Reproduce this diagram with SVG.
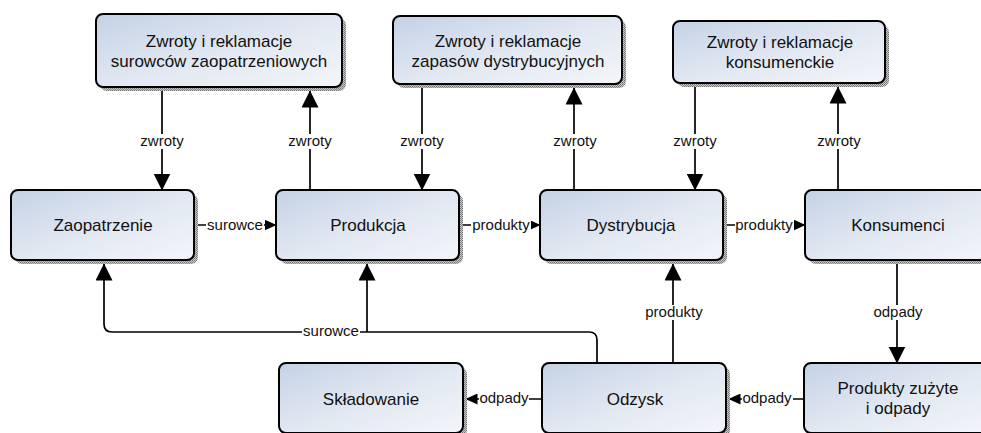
<svg xmlns="http://www.w3.org/2000/svg" width="981" height="433" viewBox="0 0 981 433">
  <defs>
    <linearGradient id="boxFill" x1="0" y1="0" x2="1" y2="1">
      <stop offset="0" stop-color="#c4d2e6"/>
      <stop offset="0.55" stop-color="#e3e9f2"/>
      <stop offset="1" stop-color="#f3f5f9"/>
    </linearGradient>
    <pattern id="hatch" width="2" height="2" patternUnits="userSpaceOnUse">
      <rect width="2" height="2" fill="#c8c8c8"/>
      <rect width="1" height="1" fill="#707070"/>
      <rect x="1" y="1" width="1" height="1" fill="#8a8a8a"/>
    </pattern>
    <marker id="bigArrow" viewBox="0 0 17 17" markerWidth="17" markerHeight="17" refX="16.5" refY="8.5" orient="auto" markerUnits="userSpaceOnUse">
      <path d="M0,0 L17,8.5 L0,17 Z" fill="#000"/>
    </marker>
    <marker id="smallArrow" viewBox="0 0 12 11" markerWidth="12" markerHeight="11" refX="11.5" refY="5.5" orient="auto" markerUnits="userSpaceOnUse">
      <path d="M0,0 L12,5.5 L0,11 Z" fill="#000"/>
    </marker>
  </defs>
  <style>
    .shadow { fill: url(#hatch); }
    .box { fill: url(#boxFill); stroke: #000; stroke-width: 2; }
    .ntext { font-family: "Liberation Sans", Arial, sans-serif; font-size: 17px; fill: #111; text-anchor: middle; }
    .edge { fill: none; stroke: #000; stroke-width: 1.7; }
    .big { marker-end: url(#bigArrow); }
    .small { marker-end: url(#smallArrow); }
    .lbg { fill: #fff; }
    .ltext { font-family: "Liberation Sans", Arial, sans-serif; font-size: 15px; fill: #111; text-anchor: middle; }
  </style>

  <rect width="981" height="433" fill="#fff"/>

  <!-- connectors -->
  <g id="connectors">
    <path class="edge big" d="M162,91 V190"/>
    <path class="edge big" d="M310,190 V91"/>
    <path class="edge big" d="M422,88 V190"/>
    <path class="edge big" d="M574,190 V88"/>
    <path class="edge big" d="M695,87 V190"/>
    <path class="edge big" d="M838,190 V87"/>
    <path class="edge small" d="M198,225 H276"/>
    <path class="edge small" d="M463,225 H540"/>
    <path class="edge small" d="M727,225 H805"/>
    <path class="edge big" d="M897,264 V363"/>
    <path class="edge small" d="M804,399 H729"/>
    <path class="edge small" d="M542,399 H466"/>
    <path class="edge big" d="M673,363 V264"/>
    <path class="edge big" d="M597,363 V340 Q597,332 589,332 H112 Q104,332 104,324 V264"/>
    <path class="edge big" d="M367,332 V264"/>

    <!-- edge labels -->
    <rect class="lbg" x="139" y="134" width="46" height="15"/>
    <text class="ltext" x="162" y="146">zwroty</text>
    <rect class="lbg" x="287" y="134" width="46" height="15"/>
    <text class="ltext" x="310" y="146">zwroty</text>
    <rect class="lbg" x="399" y="134" width="46" height="15"/>
    <text class="ltext" x="422" y="146">zwroty</text>
    <rect class="lbg" x="552" y="134" width="46" height="15"/>
    <text class="ltext" x="575" y="146">zwroty</text>
    <rect class="lbg" x="672" y="134" width="46" height="15"/>
    <text class="ltext" x="695" y="146">zwroty</text>
    <rect class="lbg" x="816" y="134" width="46" height="15"/>
    <text class="ltext" x="839" y="146">zwroty</text>

    <rect class="lbg" x="206" y="218" width="58" height="14"/>
    <text class="ltext" x="235" y="230">surowce</text>
    <rect class="lbg" x="471" y="218" width="60" height="14"/>
    <text class="ltext" x="501" y="230">produkty</text>
    <rect class="lbg" x="735" y="218" width="59" height="14"/>
    <text class="ltext" x="764" y="230">produkty</text>

    <rect class="lbg" x="872" y="305" width="52" height="15"/>
    <text class="ltext" x="898" y="317">odpady</text>
    <rect class="lbg" x="643" y="305" width="62" height="15"/>
    <text class="ltext" x="674" y="317">produkty</text>
    <rect class="lbg" x="302" y="325" width="58" height="14"/>
    <text class="ltext" x="331" y="336">surowce</text>

    <rect class="lbg" x="742" y="392" width="51" height="14"/>
    <text class="ltext" x="767" y="403">odpady</text>
    <rect class="lbg" x="479" y="392" width="50" height="14"/>
    <text class="ltext" x="504" y="403">odpady</text>
  </g>

  <!-- nodes -->
  <g id="zwroty-surowcow">
    <rect class="shadow" x="100" y="18" width="246" height="73" rx="7"/>
    <rect class="box" x="96" y="14" width="246" height="73" rx="7"/>
    <text class="ntext" x="219" y="47">Zwroty i reklamacje</text>
    <text class="ntext" x="219" y="67">surowców zaopatrzeniowych</text>
  </g>
  <g id="zwroty-zapasow">
    <rect class="shadow" x="397" y="20" width="229" height="68" rx="7"/>
    <rect class="box" x="393" y="16" width="229" height="68" rx="7"/>
    <text class="ntext" x="508" y="47">Zwroty i reklamacje</text>
    <text class="ntext" x="508" y="67">zapasów dystrybucyjnych</text>
  </g>
  <g id="zwroty-konsumenckie">
    <rect class="shadow" x="677" y="25" width="212" height="62" rx="7"/>
    <rect class="box" x="673" y="21" width="212" height="62" rx="7"/>
    <text class="ntext" x="780" y="48">Zwroty i reklamacje</text>
    <text class="ntext" x="780" y="68">konsumenckie</text>
  </g>
  <g id="zaopatrzenie">
    <rect class="shadow" x="15" y="194" width="183" height="70" rx="7"/>
    <rect class="box" x="11" y="190" width="183" height="70" rx="7"/>
    <text class="ntext" x="103" y="231">Zaopatrzenie</text>
  </g>
  <g id="produkcja">
    <rect class="shadow" x="280" y="194" width="183" height="70" rx="7"/>
    <rect class="box" x="276" y="190" width="183" height="70" rx="7"/>
    <text class="ntext" x="368" y="231">Produkcja</text>
  </g>
  <g id="dystrybucja">
    <rect class="shadow" x="544" y="194" width="183" height="70" rx="7"/>
    <rect class="box" x="540" y="190" width="183" height="70" rx="7"/>
    <text class="ntext" x="631" y="231">Dystrybucja</text>
  </g>
  <g id="konsumenci">
    <rect class="shadow" x="809" y="194" width="186" height="70" rx="7"/>
    <rect class="box" x="805" y="190" width="186" height="70" rx="7"/>
    <text class="ntext" x="898" y="231">Konsumenci</text>
  </g>
  <g id="skladowanie">
    <rect class="shadow" x="283" y="367" width="184" height="70" rx="7"/>
    <rect class="box" x="279" y="363" width="184" height="70" rx="7"/>
    <text class="ntext" x="371" y="405">Składowanie</text>
  </g>
  <g id="odzysk">
    <rect class="shadow" x="546" y="367" width="184" height="70" rx="7"/>
    <rect class="box" x="542" y="363" width="184" height="70" rx="7"/>
    <text class="ntext" x="635" y="405">Odzysk</text>
  </g>
  <g id="produkty-zuzyte">
    <rect class="shadow" x="808" y="367" width="188" height="70" rx="7"/>
    <rect class="box" x="804" y="363" width="188" height="70" rx="7"/>
    <text class="ntext" x="898" y="394">Produkty zużyte</text>
    <text class="ntext" x="898" y="414">i odpady</text>
  </g>
</svg>
